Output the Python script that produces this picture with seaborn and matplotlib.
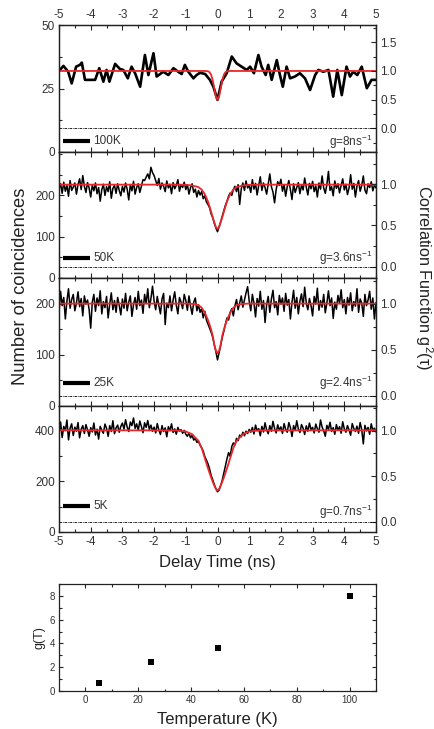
import numpy as np
import pandas as pd
import matplotlib
matplotlib.use("Agg")
import matplotlib.pyplot as plt
from matplotlib.ticker import MultipleLocator, FixedLocator
import seaborn as sns

# ---------------- data ----------------
# 100K trace (smoothed)
t_100K = [-4.97, -4.86, -4.71, -4.60, -4.46, -4.34, -4.28, -4.18, -4.02, -3.86, -3.73, -3.60, -3.50, -3.41,
          -3.23, -3.08, -2.97, -2.83, -2.71, -2.60, -2.44, -2.29, -2.18, -2.02, -1.92, -1.71, -1.55, -1.39,
          -1.24, -1.13, -1.03, -0.92, -0.76, -0.66, -0.55, -0.39, -0.24, -0.13, 0.00, 0.13, 0.29, 0.45,
          0.60, 0.76, 0.92, 1.03, 1.15, 1.29, 1.39, 1.52, 1.60, 1.71, 1.87, 1.97, 2.06, 2.18, 2.29, 2.44,
          2.60, 2.76, 2.92, 3.08, 3.18, 3.34, 3.50, 3.65, 3.78, 3.92, 4.07, 4.18, 4.28, 4.41, 4.55, 4.71,
          4.86, 5.00]
c_100K = [32.3, 33.9, 31.6, 27.0, 33.6, 34.3, 35.2, 28.4, 28.4, 28.4, 33.0, 27.7, 32.3, 27.7,
          34.7, 32.7, 32.3, 29.0, 33.6, 31.0, 25.7, 38.2, 30.3, 38.9, 29.7, 31.6, 30.3, 33.0,
          31.6, 30.7, 34.3, 31.6, 29.0, 30.3, 31.2, 30.7, 28.4, 25.7, 20.5, 27.7, 31.0, 37.6,
          34.9, 33.6, 32.3, 33.6, 31.0, 38.2, 33.6, 30.3, 34.3, 28.4, 36.2, 30.3, 25.7, 33.6, 29.0, 29.7,
          31.0, 29.0, 24.4, 30.3, 32.3, 31.6, 32.3, 21.8, 32.3, 22.4, 33.6, 29.7, 31.6, 30.3, 33.6, 25.1,
          28.4, 28.4]

# binned delay time for 50K, 25K, 5K traces (0.05 ns bins)
delay_bins = [round(-5 + 0.05 * i, 2) for i in range(201)]

c_50K = [215, 228, 205, 232, 210, 224, 198, 236, 212, 220, 230, 203, 226, 240, 214, 248, 222, 207, 231, 218,
         196, 225, 211, 230, 204, 219, 186, 214, 227, 200, 221, 209, 233, 193, 217, 224, 205, 228, 212, 199,
         222, 208, 230, 215, 189, 226, 211, 234, 203, 219, 228, 207, 223, 238, 236, 244, 252, 240, 268, 255,
         248, 236, 224, 241, 215, 230, 222, 209, 235, 218, 227, 204, 231, 216, 224, 238, 210, 226, 219, 232,
         214, 226, 203, 219, 228, 207, 215, 196, 212, 201, 209, 192, 199, 184, 178, 170, 155, 146, 132, 121,
         112,
         124, 136, 150, 163, 176, 186, 198, 206, 200, 214, 222, 209, 226, 178, 216, 230, 212, 235, 218, 224,
         207, 238, 215, 229, 201, 224, 245, 212, 230, 219, 203, 227, 252, 221, 208, 182, 214, 233, 224, 239,
         210, 226, 198, 221, 236, 214, 190, 228, 207, 219, 231, 204, 225, 213, 242, 220, 201, 229, 216, 234,
         209, 223, 196, 230, 215, 247, 218, 205, 226, 258, 212, 221, 199, 235, 217, 228, 206, 224, 240, 213,
         227, 202, 218, 250, 215, 229, 196, 222, 236, 210, 224, 247, 213, 204, 228, 219, 233, 211, 225, 218]

c_25K = [183, 224, 196, 212, 170, 205, 229, 191, 208, 218, 186, 201, 223, 194, 210, 176, 215, 199, 207, 189,
         152, 203, 218, 185, 211, 196, 225, 180, 204, 192, 214, 172, 199, 221, 188, 206, 183, 212, 197, 178,
         209, 191, 220, 186, 203, 215, 175, 198, 212, 189, 224, 196, 207, 181, 218, 200, 229, 192, 210, 234,
         205, 188, 214, 196, 180, 209, 220, 159, 201, 192, 215, 186, 207, 223, 197, 180, 212, 203, 190, 218,
         206, 187, 215, 195, 179, 203, 211, 186, 198, 183, 190, 172, 185, 168, 160, 152, 144, 134, 119, 106,
         90,
         104, 118, 134, 146, 160, 172, 168, 183, 190, 176, 196, 208, 188, 202, 215, 193, 207, 221, 233, 205,
         186, 218, 201, 174, 210, 195, 224, 189, 206, 163, 198, 214, 183, 209, 226, 192, 204, 178, 216, 199,
         211, 185, 220, 197, 208, 170, 203, 226, 191, 212, 180, 205, 219, 194, 232, 201, 188, 210, 196, 176,
         214, 199, 230, 187, 206, 193, 218, 182, 201, 225, 196, 211, 171, 203, 189, 216, 200, 227, 192, 208,
         180, 212, 197, 221, 186, 204, 195, 229, 183, 209, 201, 175, 218, 196, 207, 224, 189, 211, 170, 202]

c_5K = [385, 432, 371, 415, 398, 440, 362, 408, 425, 379, 412, 396, 430, 370, 404, 418, 387, 422, 401, 376,
        410, 393, 428, 381, 404, 365, 415, 399, 388, 424, 407, 376, 418, 395, 437, 386, 409, 420, 392, 415,
        428, 404, 441, 412, 395, 432, 418, 448, 407, 425, 399, 436, 414, 390, 429, 411, 438, 403, 420, 396,
        412, 389, 426, 401, 383, 418, 395, 409, 374, 414, 398, 425, 391, 405, 384, 411, 396, 402, 388, 399,
        384, 376, 389, 370, 380, 361, 368, 352, 356, 341, 330, 318, 296, 283, 268, 248, 222, 205, 186, 170,
        158,
        165, 182, 204, 232, 261, 288, 312, 297, 336, 350, 342, 368, 359, 381, 374, 392, 378, 396, 387, 403,
        392, 411, 385, 420, 398, 406, 378, 415, 393, 429, 401, 386, 418, 396, 435, 407, 389, 421, 400, 413,
        387, 426, 403, 392, 430, 410, 375, 418, 399, 437, 405, 391, 422, 408, 383, 417, 396, 428, 402, 411,
        389, 424, 406, 392, 440, 412, 398, 376, 419, 403, 431, 395, 410, 384, 422, 399, 414, 388, 433, 405,
        392, 418, 401, 380, 426, 407, 395, 416, 388, 430, 402, 346, 419, 397, 411, 384, 425, 399, 408, 393]

# fitted curves (counts)
fit_t = [-5, -1.3, -1.0, -0.8, -0.6, -0.5, -0.4, -0.3, -0.25, -0.2, -0.15, -0.1, -0.05, 0,
         0.05, 0.1, 0.15, 0.2, 0.25, 0.3, 0.4, 0.5, 0.6, 0.8, 1.0, 1.3, 5]
fit_100K = [31.9, 31.9, 31.9, 31.9, 31.9, 31.9, 31.9, 31.8, 31.4, 30.4, 28.2, 25.0, 21.8, 20.5,
            21.8, 25.0, 28.2, 30.4, 31.4, 31.8, 31.9, 31.9, 31.9, 31.9, 31.9, 31.9, 31.9]
fit_50K = [226, 226, 225.5, 224, 220, 214, 203, 185, 173, 160, 147, 135, 123, 119,
           123, 135, 147, 160, 173, 185, 203, 214, 220, 224, 225.5, 226, 226]
fit_25K = [200, 200, 200, 199.5, 197, 192, 182, 168, 159, 149, 137, 120, 108, 103,
           108, 120, 137, 149, 159, 168, 182, 192, 197, 199.5, 200, 200, 200]
fit_5K = [400, 399, 395, 384, 358, 330, 290, 250, 232, 214, 197, 182, 169, 163,
          169, 182, 197, 214, 232, 250, 290, 330, 358, 384, 395, 399, 400]

panel_labels = ["100K", "50K", "25K", "5K"]
g_labels = ["g=8ns$^{-1}$", "g=3.6ns$^{-1}$", "g=2.4ns$^{-1}$", "g=0.7ns$^{-1}$"]
left_ticks = [[0, 25, 50], [0, 100, 200], [0, 100, 200], [0, 200, 400]]

temperature = [5, 25, 50, 100]
g_T = [0.7, 2.4, 3.6, 8.0]

# ---------------- style ----------------
sns.set_style("ticks")
plt.rcParams['font.family'] = ['Liberation Sans', 'DejaVu Sans']
plt.rcParams['mathtext.fontset'] = 'custom'
plt.rcParams['mathtext.rm'] = 'Liberation Sans'
plt.rcParams['mathtext.it'] = 'Liberation Sans:italic'
plt.rcParams['axes.linewidth'] = 0.9
plt.rcParams['axes.edgecolor'] = '#222222'

W, H = 434, 729
fig = plt.figure(figsize=(W / 100, H / 100), dpi=100)

def fx(px):
    return px / W

def fy(py):
    return 1 - py / H

left, right = 59, 376
panels_px = [(25, 152), (152, 278), (278, 406), (406, 532)]
left_lims = [(0, 50), (0, 305), (0, 250), (0, 495)]
left_minor = [12.5, 50, 50, 100]
right_lims = [(-0.41, 1.80), (-0.137, 1.39), (-0.11, 1.28), (-0.11, 1.27)]
label_y = [0.087, 0.156, 0.177, 0.209]
g_y = [0.079, 0.156, 0.177, 0.161]

traces = [
    (t_100K, c_100K, fit_100K, 1.9),
    (delay_bins, c_50K, fit_50K, 1.1),
    (delay_bins, c_25K, fit_25K, 1.1),
    (delay_bins, c_5K, fit_5K, 1.1),
]

tick_color = '#333333'
fs_tick = 8.5
red = '#e8262b'

for k, ((top, bot), (tx, cy, fit, lw)) in enumerate(zip(panels_px, traces)):
    ax = fig.add_axes([fx(left), fy(bot), fx(right - left), (bot - top) / H])
    df = pd.DataFrame({"t": tx, "c": cy})
    sns.lineplot(data=df, x="t", y="c", ax=ax, color="black", lw=lw, estimator=None, sort=True,
                 solid_joinstyle='round', solid_capstyle='round')
    dff = pd.DataFrame({"t": fit_t, "c": fit})
    sns.lineplot(data=dff, x="t", y="c", ax=ax, color=red, lw=1.3, estimator=None, sort=True)
    ax.set_xlim(-5, 5)
    ax.set_ylim(*left_lims[k])
    ax.set_xlabel("")
    ax.set_ylabel("")
    ax.xaxis.set_major_locator(MultipleLocator(1))
    ax.xaxis.set_minor_locator(MultipleLocator(0.5))
    ax.yaxis.set_major_locator(FixedLocator(left_ticks[k]))
    ax.yaxis.set_minor_locator(MultipleLocator(left_minor[k]))
    ax.tick_params(axis='both', which='both', direction='in', top=True, bottom=True,
                   left=True, right=False, labelsize=fs_tick, labelcolor=tick_color, width=0.8)
    ax.tick_params(which='major', length=3.5)
    ax.tick_params(which='minor', length=2)
    ax.tick_params(axis='y', pad=3)
    ax.tick_params(axis='x', labeltop=(k == 0), labelbottom=(k == 3), pad=3)
    ax.xaxis.set_major_formatter(matplotlib.ticker.FuncFormatter(lambda v, p: f"{v:g}"))

    ax2 = ax.twinx()
    ax2.set_ylim(*right_lims[k])
    ax2.axhline(0.0, color='black', lw=0.6, ls=(0, (3, 1, 1, 1)))
    ax2.yaxis.set_minor_locator(MultipleLocator(0.25))
    ax2.tick_params(axis='y', which='both', direction='in', labelsize=fs_tick, labelcolor=tick_color,
                    width=0.8, pad=3)
    ax2.tick_params(which='major', length=3.5)
    ax2.tick_params(which='minor', length=2)
    if k == 0:
        ax2.yaxis.set_major_locator(FixedLocator([0.0, 0.5, 1.0, 1.5]))
    else:
        ax2.yaxis.set_major_locator(FixedLocator([0.0, 0.5, 1.0]))
    ax2.yaxis.set_major_formatter(matplotlib.ticker.FormatStrFormatter('%.1f'))

    # legend-like key: thick black line + temperature label
    ax.plot([0.012, 0.098], [label_y[k], label_y[k]], color='black', lw=3, transform=ax.transAxes,
            solid_capstyle='butt')
    ax.text(0.108, label_y[k], panel_labels[k], transform=ax.transAxes, ha='left', va='center',
            fontsize=fs_tick, color=tick_color)
    ax.text(0.988, g_y[k], g_labels[k], transform=ax.transAxes,
            ha='right', va='center', fontsize=fs_tick, color=tick_color)

fig.text(fx(217), fy(563), "Delay Time (ns)", ha='center', va='center', fontsize=12, color='#222222')
fig.text(fx(21), fy(286), "Number of coincidences", ha='center', va='center', rotation=90,
         fontsize=13.2, color='#222222')
fig.text(fx(424), fy(278), "Correlation Function g$^2$(\u03c4)", ha='center', va='center',
         rotation=-90, fontsize=11.7, color='#222222')

# bottom panel
ax5 = fig.add_axes([fx(left), fy(691), fx(right - left), (691 - 584) / H])
dft = pd.DataFrame({"T": temperature, "g": g_T})
sns.scatterplot(data=dft, x="T", y="g", ax=ax5, marker='s', color='black', s=16, edgecolor='black',
                linewidth=0)
ax5.set_xlim(-10, 110)
ax5.set_ylim(0, 9)
ax5.xaxis.set_major_locator(MultipleLocator(20))
ax5.xaxis.set_minor_locator(MultipleLocator(10))
ax5.yaxis.set_major_locator(MultipleLocator(2))
ax5.yaxis.set_minor_locator(MultipleLocator(1))
ax5.tick_params(axis='both', which='both', direction='in', top=True, right=True, labelsize=7,
                labelcolor=tick_color, width=0.8, pad=3)
ax5.tick_params(which='major', length=3)
ax5.tick_params(which='minor', length=1.8)
ax5.set_xlabel("Temperature (K)", fontsize=12, color='#222222', labelpad=5)
ax5.set_ylabel("g(T)", fontsize=9, color='#222222', labelpad=3)

fig.savefig("out.png", dpi=100)
